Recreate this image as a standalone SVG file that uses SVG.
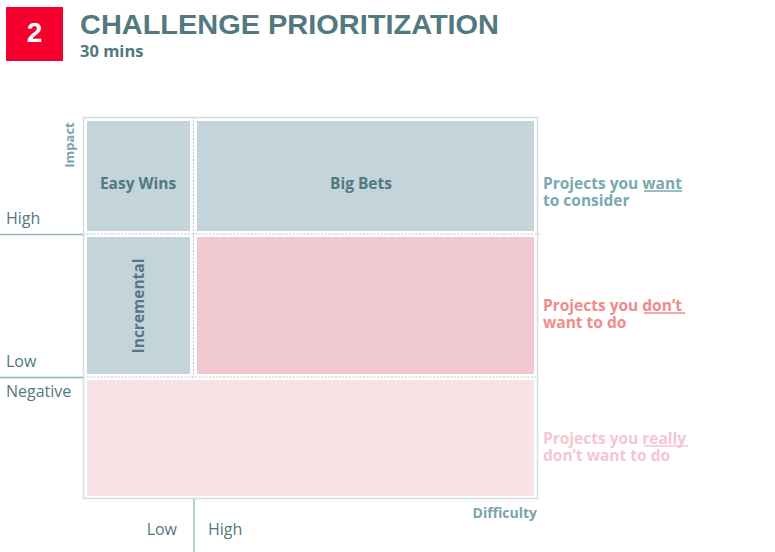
<svg xmlns="http://www.w3.org/2000/svg" width="775" height="552" viewBox="0 0 775 552">
<style>
.t{font-family:"Open Sans","Liberation Sans",sans-serif}
.h{font-family:"Liberation Sans","Open Sans",sans-serif;font-weight:700}
.b{font-weight:700}
.ax{font-family:"Open Sans","Liberation Sans",sans-serif;font-size:16px;fill:#527880}
.q{font-family:"Open Sans","Liberation Sans",sans-serif;font-size:15.5px;font-weight:700;fill:#527880}
.dash{stroke:#b9cdd3;stroke-width:1.2;stroke-dasharray:2 1.5;fill:none}
.axis{stroke:#8fb4bb;stroke-width:1.3;fill:none}
.ul{stroke-width:1.3}
</style>
<rect width="775" height="552" fill="#ffffff"/>
<g id="header">
<rect x="6" y="7" width="57" height="54" fill="#f5002e"/>
<text x="34.5" y="42" text-anchor="middle" class="h" font-size="28" fill="#ffffff">2</text>
<text x="80" y="34" class="h" font-size="28.5" fill="#527880" textLength="419" lengthAdjust="spacingAndGlyphs">CHALLENGE PRIORITIZATION</text>
<text x="80" y="57" class="t b" font-size="16.5" fill="#527880">30 mins</text>
</g>
<g id="frame">
<rect x="83.5" y="117.5" width="454" height="381" fill="none" stroke="#d5dde0" stroke-width="1.5"/>
</g>
<g id="easy-wins">
<rect x="87" y="121" width="103" height="110" fill="#c3d4da"/>
<text x="138" y="189" text-anchor="middle" class="q">Easy Wins</text>
</g>
<g id="big-bets">
<rect x="197" y="121" width="337" height="110" fill="#c3d4da"/>
<text x="361" y="189" text-anchor="middle" class="q">Big Bets</text>
</g>
<g id="incremental">
<rect x="87" y="237" width="103" height="137" fill="#c3d4da"/>
<text transform="translate(144,306) rotate(-90)" text-anchor="middle" class="q">Incremental</text>
</g>
<g id="dont-want">
<rect x="197" y="237" width="337" height="137" fill="#f0c8cf"/>
</g>
<g id="really-dont-want">
<rect x="87" y="380" width="447" height="116" fill="#f7e3e6"/>
</g>
<g id="connectors">
<line class="dash" x1="193.5" y1="117" x2="193.5" y2="377"/>
<line class="dash" x1="83" y1="234" x2="541" y2="234"/>
<line class="dash" x1="83" y1="377" x2="538" y2="377"/>
<line class="axis" x1="0" y1="234.5" x2="83" y2="234.5"/>
<line class="axis" x1="0" y1="377.5" x2="83" y2="377.5"/>
<line x1="83.5" y1="234" x2="83.5" y2="499" stroke="#d5dde0" stroke-width="1"/>
<line class="axis" x1="194" y1="499" x2="194" y2="552"/>
</g>
<g id="axis-labels">
<text transform="translate(74,145) rotate(-90)" text-anchor="middle" class="t b" font-size="13" fill="#7aa3ab">Impact</text>
<text x="6" y="224" class="ax">High</text>
<text x="6" y="367" class="ax">Low</text>
<text x="6" y="397" class="ax">Negative</text>
<text x="177" y="535" text-anchor="end" class="ax">Low</text>
<text x="208" y="535" class="ax">High</text>
<text x="537" y="518" text-anchor="end" class="t b" font-size="14" fill="#7aa3ab">Difficulty</text>
</g>
<g id="legend-want">
<text class="q" style="fill:#7aa8b0" x="543" y="189">Projects you want</text>
<line class="ul" x1="644" y1="191" x2="682" y2="191" stroke="#7aa8b0"/>
<text class="q" style="fill:#7aa8b0" x="543" y="206">to consider</text>
</g>
<g id="legend-dont">
<text class="q" style="fill:#f28a8a" x="543" y="311">Projects you don’t</text>
<line class="ul" x1="644" y1="313" x2="685" y2="313" stroke="#f28a8a"/>
<text class="q" style="fill:#f28a8a" x="543" y="328">want to do</text>
</g>
<g id="legend-really">
<text class="q" style="fill:#f5c6cf" x="543" y="444">Projects you really</text>
<line class="ul" x1="644" y1="446" x2="688" y2="446" stroke="#f5c6cf"/>
<text class="q" style="fill:#f5c6cf" x="543" y="461">don’t want to do</text>
</g>
</svg>
